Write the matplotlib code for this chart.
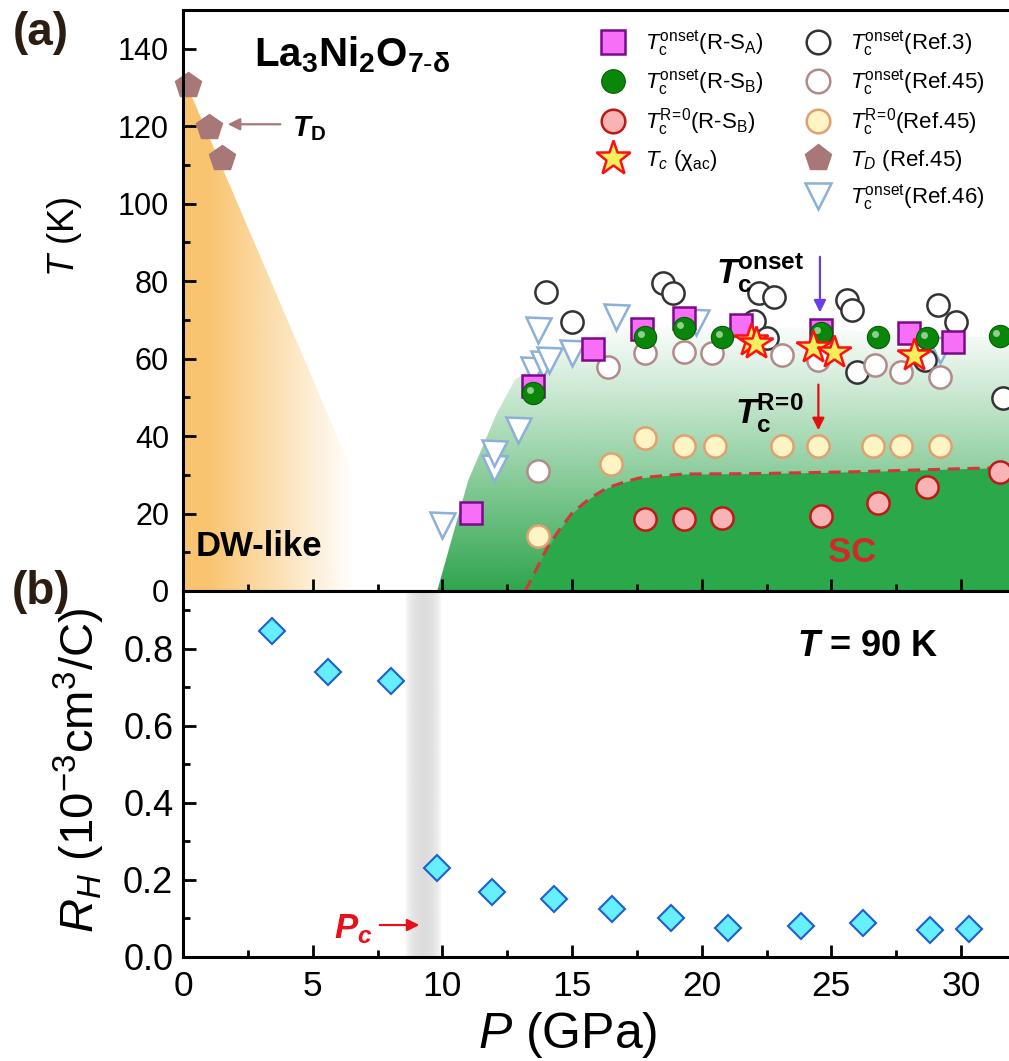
import numpy as np
import matplotlib
matplotlib.use('Agg')
import matplotlib.pyplot as plt
import matplotlib.transforms as mtransforms
from matplotlib.patches import Polygon
from matplotlib.lines import Line2D
from matplotlib.colors import to_rgb

plt.rcParams['font.family'] = ['Liberation Sans', 'DejaVu Sans']
plt.rcParams['mathtext.fontset'] = 'custom'
plt.rcParams['mathtext.rm'] = 'Liberation Sans'
plt.rcParams['mathtext.it'] = 'Liberation Sans:italic'
plt.rcParams['mathtext.bf'] = 'Liberation Sans:bold'
plt.rcParams['mathtext.bfit'] = 'Liberation Sans:bold:italic'

# ---------------- data (P in GPa, T in K) ----------------
sqA_P = [11.1, 13.5, 15.8, 17.7, 19.3, 21.5, 24.6, 28.0, 29.7]
sqA_T = [20.1, 52.9, 62.5, 67.6, 70.5, 68.6, 67.4, 66.6, 64.3]

onB_P = [13.5, 17.8, 19.3, 20.8, 24.6, 26.8, 28.7, 31.5]
onB_T = [51.1, 65.5, 67.9, 65.5, 66.6, 65.5, 65.3, 65.8]

zeroB_P = [17.8, 19.3, 20.8, 24.6, 26.8, 28.7, 31.5]
zeroB_T = [18.6, 18.6, 18.8, 19.4, 22.7, 26.8, 30.7]

chi_P = [21.9, 22.1, 24.3, 25.1, 28.2]
chi_T = [64.8, 64.0, 63.0, 61.7, 60.9]

ref3_P = [14.0, 15.0, 18.5, 18.9, 22.2, 22.8, 22.0, 22.5, 25.6, 25.8, 26.0, 28.6, 29.1, 29.8, 31.6]
ref3_T = [77.2, 69.4, 79.5, 76.9, 76.9, 75.9, 69.7, 65.3, 75.1, 72.5, 56.5, 59.6, 73.8, 69.4, 49.8]

ref45_on_P = [13.7, 16.4, 17.8, 19.3, 20.4, 23.1, 24.5, 26.7, 27.7, 29.2]
ref45_on_T = [31.0, 57.8, 61.4, 61.7, 61.4, 60.9, 59.6, 58.3, 56.5, 55.2]

ref45_zero_P = [13.7, 16.5, 17.8, 19.3, 20.5, 23.1, 24.5, 26.6, 27.7, 29.2]
ref45_zero_T = [14.2, 32.8, 39.5, 37.4, 37.4, 37.4, 37.4, 37.4, 37.4, 37.4]

td_P = [0.2, 1.0, 1.5]
td_T = [130.6, 119.7, 111.7]

ref46_P = [10.0, 12.0, 12.0, 12.9, 13.5, 13.9, 14.1, 13.7, 15.0, 16.7, 19.8, 29.2]
ref46_T = [17.0, 31.7, 35.6, 41.5, 57.0, 58.6, 59.6, 67.4, 61.4, 70.7, 69.4, 62.2]

# phase boundaries
dw_P = [0, 0, 8.5]
dw_T = [0, 133, 0]
sc_edge_P = [9.8, 11.0, 12.1, 12.8, 13.5, 14.8, 16.4, 17.6, 20, 24, 28, 32.5]
sc_edge_T = [0, 28.6, 45.9, 54.5, 58, 64, 67.4, 69, 69, 68, 66.5, 65]
zero_edge_P = [13.2, 14.0, 14.5, 15.0, 15.7, 16.35, 17.0, 17.6, 18.4, 19.3, 22, 26, 30.7, 32.5]
zero_edge_T = [0, 10.6, 15.7, 20.1, 24.0, 26.6, 28.1, 29.2, 29.7, 30.2, 30.3, 30.8, 31.7, 32.0]

# Hall coefficient at 90 K
rh_P = [3.43, 5.59, 8.02, 9.80, 11.92, 14.31, 16.54, 18.82, 21.02, 23.83, 26.22, 28.81, 30.31]
rh_R = [0.846, 0.740, 0.716, 0.232, 0.169, 0.151, 0.125, 0.102, 0.076, 0.081, 0.089, 0.070, 0.073]

pc_band = [8.55, 9.95]

# ---------------- figure ----------------
W, H = 1009, 1061
fig = plt.figure(figsize=(W / 100, H / 100), dpi=100)


def fx(px):
    return px / W


def fy(py):
    return 1 - py / H


ax1 = fig.add_axes([fx(183), fy(591), 1 - fx(183), fy(10) - fy(591)])
ax2 = fig.add_axes([fx(183), fy(957), 1 - fx(183), fy(591) - fy(957)], sharex=ax1)

for ax in (ax1, ax2):
    ax.spines['right'].set_visible(False)
    for s in ('left', 'bottom', 'top'):
        ax.spines[s].set_linewidth(2.2)
    ax.tick_params(which='both', direction='in', right=False, top=False, width=2.0)
    ax.tick_params(which='major', length=9)
    ax.tick_params(which='minor', length=5)

# --- shaded regions (a) ---
g = np.linspace(0, 1, 256)

# DW-like orange gradient (fades to the right)
xs = g * 8.5
orange = np.zeros((1, 256, 4))
orange[..., :3] = to_rgb('#f8b447')
orange[0, :, 3] = 0.78 * np.clip(1 - (xs - 1.0) / 5.6, 0, 1)
im_o = ax1.imshow(orange, extent=[0, 8.5, 0, 133], origin='lower', aspect='auto',
                  interpolation='bilinear', zorder=0.2)
im_o.set_clip_path(Polygon(np.column_stack([dw_P, dw_T]), closed=True, transform=ax1.transData))

# light green gradient (onset region, fades upward)
green = np.zeros((256, 1, 4))
green[..., :3] = to_rgb('#23a043')
green[:, 0, 3] = 0.95 * (1 - g) ** 1.05
im_g = ax1.imshow(green, extent=[9.5, 32.5, 0, 70], origin='lower', aspect='auto',
                  interpolation='bilinear', zorder=0.3)
im_g.set_clip_path(Polygon(np.column_stack([sc_edge_P + [32.5], sc_edge_T + [0]]),
                           closed=True, transform=ax1.transData))

# zero-resistance SC region
ax1.fill_between(zero_edge_P, 0, zero_edge_T, color='#2aa84a', lw=0, zorder=0.4)
ax1.plot(zero_edge_P, zero_edge_T, color='#d0383a', lw=2.2, ls=(0, (4, 2.5)), zorder=0.5)

# --- data markers (a) ---
mk = dict(ls='none', ms=16, mew=1.8)
ax1.plot(ref46_P, ref46_T, marker='v', mfc='white', mec='#8cb0d8', ms=18, mew=1.8, ls='none', zorder=2)
ax1.plot(ref3_P, ref3_T, marker='o', mfc='white', mec='#333333', zorder=2.1, **mk)
ax1.plot(ref45_on_P, ref45_on_T, marker='o', mfc='white', mec='#b38a8a', zorder=2.2, **mk)
ax1.plot(ref45_zero_P, ref45_zero_T, marker='o', mfc='#fff5c4', mec='#e2a070', zorder=2.3, **mk)
ax1.plot(zeroB_P, zeroB_T, marker='o', mfc='#f8b4b4', mec='#c01818', zorder=2.4, **mk)
ax1.plot(td_P, td_T, marker='p', mfc='#a87878', mec='#a87878', ms=19, ls='none', zorder=2.5, clip_on=False)
ax1.plot(sqA_P, sqA_T, marker='s', mfc='#f76ff7', mec='#7a0a8a', zorder=3, **mk)
ax1.plot(onB_P, onB_T, marker='o', mfc='#0a860a', mec='#006000', ms=16, mew=0.8, ls='none', zorder=3.1)
hl = mtransforms.offset_copy(ax1.transData, fig=fig, x=-3.5, y=3.5, units='dots')
ax1.plot(onB_P, onB_T, marker='o', mfc='#c8eec8', mec='none', ms=5, alpha=0.7, ls='none',
         transform=hl, zorder=3.2)
ax1.plot(chi_P, chi_T, marker='*', mfc='#f6ee5a', mec='#ff1010', ms=25, mew=1.8, ls='none', zorder=3.3)

ax1.set_xlim(0, 31.85)
ax1.set_ylim(0, 150)
ax1.set_yticks(np.arange(0, 141, 20))
ax1.set_yticks(np.arange(10, 150, 20), minor=True)
ax1.set_xticks(np.arange(0, 31, 5))
ax1.set_xticks(np.arange(2.5, 31, 5), minor=True)
ax1.tick_params(labelbottom=False, labelsize=22, pad=10)
ax1.set_ylabel(r'$T$ (K)', fontsize=26, va='center')
ax1.yaxis.set_label_coords(-0.143, 0.609)

# annotations (a)
ax1.text(6.52, 138.5, r'$\mathbf{La_3Ni_2O_{7\text{-}\delta}}$', fontsize=29,
         ha='center', va='center')
ax1.text(4.85, 119.5, r'$\mathbfit{T}_\mathbf{D}$', fontsize=21, ha='center', va='center')
ax1.annotate('', xy=(1.62, 120.5), xytext=(3.86, 120.5),
             arrowprops=dict(arrowstyle='-|>', color='#a87878', lw=1.6, mutation_scale=18))
ax1.text(22.25, 82.0, r'$\mathbfit{T}_\mathbf{c}^\mathbf{onset}$', fontsize=25, ha='center', va='center')
ax1.annotate('', xy=(24.56, 71.2), xytext=(24.56, 87.0),
             arrowprops=dict(arrowstyle='-|>', color='#6a3cf0', lw=1.6, mutation_scale=18))
ax1.text(22.6, 46.0, r'$\mathbfit{T}_\mathbf{c}^\mathbf{R\!=\!0}$', fontsize=25, ha='center', va='center')
ax1.annotate('', xy=(24.5, 40.8), xytext=(24.5, 54.0),
             arrowprops=dict(arrowstyle='-|>', color='#e01010', lw=1.6, mutation_scale=18))
ax1.text(2.93, 11.6, 'DW-like', fontsize=25, fontweight='bold', ha='center', va='center')
ax1.text(25.8, 10.0, 'SC', fontsize=25, fontweight='bold', color='#d42828', ha='center', va='center')

# legends
lfs = 16
lmk = dict(ls='none', ms=17, mew=1.8)
h_sqA = Line2D([], [], marker='s', mfc='#f76ff7', mec='#7a0a8a', **lmk)
h_onB = Line2D([], [], marker='o', mfc='#0a860a', mec='#006000', ms=17, mew=0.8, ls='none')
h_zB = Line2D([], [], marker='o', mfc='#f8b4b4', mec='#c01818', **lmk)
h_chi = Line2D([], [], marker='*', mfc='#f6ee5a', mec='#ff1010', ms=26, mew=1.8, ls='none')
h_r3 = Line2D([], [], marker='o', mfc='white', mec='#333333', **lmk)
h_r45 = Line2D([], [], marker='o', mfc='white', mec='#b38a8a', **lmk)
h_r45z = Line2D([], [], marker='o', mfc='#fff5c4', mec='#e2a070', **lmk)
h_td = Line2D([], [], marker='p', mfc='#a87878', mec='#a87878', ms=20, ls='none')
h_r46 = Line2D([], [], marker='v', mfc='white', mec='#8cb0d8', ms=19, mew=1.8, ls='none')

leg_kw = dict(frameon=False, fontsize=lfs, borderpad=0, borderaxespad=0, handlelength=1.2,
              handletextpad=0.83, labelspacing=0.42, loc='upper left',
              bbox_transform=fig.transFigure)
leg1 = ax1.legend([h_sqA, h_onB, h_zB, h_chi],
                  [r'$T_\mathrm{c}^\mathrm{onset}$(R-S$_\mathrm{A}$)',
                   r'$T_\mathrm{c}^\mathrm{onset}$(R-S$_\mathrm{B}$)',
                   r'$T_\mathrm{c}^\mathrm{R\!=\!0}$(R-S$_\mathrm{B}$)',
                   r'$T_c$ ($\mathrm{\chi}_\mathrm{ac}$)'],
                  bbox_to_anchor=(fx(600), fy(28)), **leg_kw)
ax1.add_artist(leg1)
ax1.legend([h_r3, h_r45, h_r45z, h_td, h_r46],
           [r'$T_\mathrm{c}^\mathrm{onset}$(Ref.3)',
            r'$T_\mathrm{c}^\mathrm{onset}$(Ref.45)',
            r'$T_\mathrm{c}^\mathrm{R\!=\!0}$(Ref.45)',
            r'$T_D$ (Ref.45)',
            r'$T_\mathrm{c}^\mathrm{onset}$(Ref.46)'],
           bbox_to_anchor=(fx(805), fy(28)), **leg_kw)

# ---------------- panel (b) ----------------
band = np.zeros((1, 64, 4))
band[..., :3] = to_rgb('#8c8c8c')
band[0, :, 3] = 0.30 * np.sin(np.pi * np.linspace(0, 1, 64)) ** 0.6
ax2.imshow(band, extent=[pc_band[0], pc_band[1], 0, 0.95], origin='lower', aspect='auto',
           interpolation='bilinear', zorder=0.2)
ax2.plot(rh_P, rh_R, marker='D', mfc='#66f0ff', mec='#1f5fd0', ms=13, mew=1.5, ls='none', zorder=3)

ax2.set_xlim(0, 31.85)
ax2.set_ylim(0, 0.95)
ax2.set_yticks(np.arange(0, 0.81, 0.2))
ax2.set_yticks(np.arange(0.1, 0.95, 0.2), minor=True)
ax2.yaxis.set_major_formatter(matplotlib.ticker.FormatStrFormatter('%.1f'))
ax2.tick_params(axis='y', labelsize=26, pad=7)
ax2.tick_params(axis='x', labelsize=25.5, pad=9)
ax2.set_ylabel(r'$R_H$ (10$^{-3}$cm$^3$/C)', fontsize=34, va='center')
ax2.yaxis.set_label_coords(-0.125, 0.51)
ax2.set_xlabel(r'$P$ (GPa)', fontsize=36, va='center')
ax2.xaxis.set_label_coords(0.466, -0.213)

ax2.text(26.4, 0.805, r'$\mathbfit{T}$ = 90 K', fontsize=26, fontweight='bold', ha='center', va='center')
ax2.text(6.56, 0.049, r'$\mathbfit{P}_\mathbfit{c}$', fontsize=25, color='#e8101a', ha='center', va='baseline')
ax2.annotate('', xy=(9.22, 0.083), xytext=(7.48, 0.083),
             arrowprops=dict(arrowstyle='-|>', color='#e8101a', lw=1.6, mutation_scale=18))

# panel labels
fig.text(fx(41), fy(33), '(a)', fontsize=33, fontweight='bold', color='#2b1d12', ha='center', va='center')
fig.text(fx(41), fy(592), '(b)', fontsize=33, fontweight='bold', color='#2b1d12', ha='center', va='center')

fig.savefig('out.png', dpi=100)
